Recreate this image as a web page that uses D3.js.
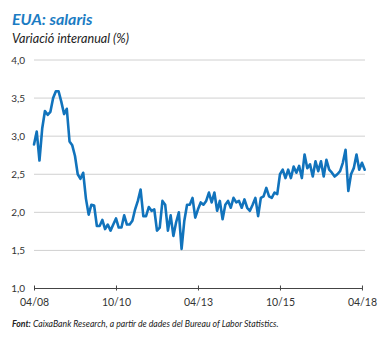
<!DOCTYPE html>
<html><head><meta charset="utf-8">
<script src="https://cdn.jsdelivr.net/npm/d3@7"></script>
<style>
html,body{margin:0;padding:0;background:#fff;}
svg{display:block;}
</style></head>
<body>
<script>
const title = "EUA: salaris";
const subtitle = "Variació interanual (%)";
const source = ["Font:", " CaixaBank Research, a partir de dades del Bureau of Labor Statistics."];
const startMonth = "2008-04";
const values = [
 2.89,3.06,2.68,3.10,3.33,3.28,3.32,3.50,3.59,3.59,3.45,3.29,3.36,2.93,2.88,2.74,2.50,2.44,2.52,2.18,
 1.97,2.10,2.09,1.82,1.82,1.90,1.78,1.84,1.76,1.84,1.92,1.80,1.80,1.96,1.84,1.84,1.89,2.04,2.15,2.30,
 1.95,1.95,2.07,2.02,2.04,1.76,1.80,2.15,2.10,1.76,1.96,1.69,1.87,2.00,1.52,1.89,2.10,2.10,2.19,1.93,
 2.04,2.13,2.10,2.15,2.26,2.13,2.26,2.02,2.15,1.91,2.10,2.15,2.06,2.19,2.13,2.15,2.06,2.17,2.06,2.02,
 2.10,2.19,1.95,2.19,2.21,2.32,2.21,2.19,2.26,2.24,2.50,2.56,2.45,2.56,2.45,2.60,2.52,2.61,2.45,2.76,
 2.58,2.63,2.47,2.67,2.54,2.67,2.47,2.69,2.56,2.52,2.47,2.50,2.54,2.65,2.82,2.28,2.50,2.58,2.76,2.56,
 2.65,2.56
];
const yTicks = [1.0,1.5,2.0,2.5,3.0,3.5,4.0];
const xTickLabels = ["04/08","10/10","04/13","10/15","04/18"];
const xTickIndex = [0,30,60,90,120];

const W = 380, H = 338;
const svg = d3.select("body").append("svg").attr("width",W).attr("height",H);
const x = d3.scaleLinear().domain([0, values.length-1]).range([34, 364.7]);
const y = d3.scaleLinear().domain([1,4]).range([288.5, 60]);
const fmt = v => d3.format(".1f")(v).replace(".", ",");
const FF = "Lato, 'Open Sans', sans-serif";

svg.append("text").attr("x",12).attr("y",25)
  .attr("font-family",FF).attr("font-weight","bold").attr("font-style","italic")
  .attr("font-size",16).attr("fill","#1b7cc3").text(title);
svg.append("text").attr("x",12).attr("y",43)
  .attr("font-family",FF).attr("font-style","italic")
  .attr("font-size",12.6).attr("fill","#222").text(subtitle);

// grid
svg.append("g").selectAll("line").data(yTicks.filter(d=>d>1)).join("line")
  .attr("x1",34).attr("x2",365).attr("y1",d=>y(d)).attr("y2",d=>y(d))
  .attr("stroke","#d0d0d0").attr("stroke-width",1);

// y labels
svg.append("g").selectAll("text").data(yTicks).join("text")
  .attr("x",25).attr("y",d=>y(d)+3.5).attr("text-anchor","end")
  .attr("font-family",FF).attr("font-size",10).attr("fill","#333")
  .text(fmt);

// x axis
const xAxis = d3.axisBottom(x).tickValues(xTickIndex)
  .tickFormat((d,i)=>xTickLabels[i]).tickSize(3).tickSizeOuter(0);
const ax = svg.append("g").attr("transform",`translate(0,${y(1)})`).call(xAxis);
ax.select(".domain").attr("stroke","#444").attr("d",`M${x(0)},0H${x(120)}`);
ax.selectAll(".tick line").attr("stroke","#444").attr("y1",-3).attr("y2",2);
ax.selectAll(".tick text").attr("font-family",FF).attr("font-size",10.5)
  .attr("fill","#333").attr("dy","0").attr("y",17.5);

// line
const line = d3.line().x((d,i)=>x(i)).y(d=>y(d)).curve(d3.curveLinear);
svg.append("path").datum(values).attr("d",line).attr("fill","none")
  .attr("stroke","#1173bc").attr("stroke-width",2.6).attr("stroke-linejoin","round").attr("stroke-linecap","round");

// source
const src = svg.append("text").attr("x",12).attr("y",327)
  .attr("font-family",FF).attr("font-style","italic")
  .attr("font-size",8.7).attr("fill","#222");
src.append("tspan").attr("font-weight","bold").text(source[0]);
src.append("tspan").text(source[1]);
</script>
</body></html>
